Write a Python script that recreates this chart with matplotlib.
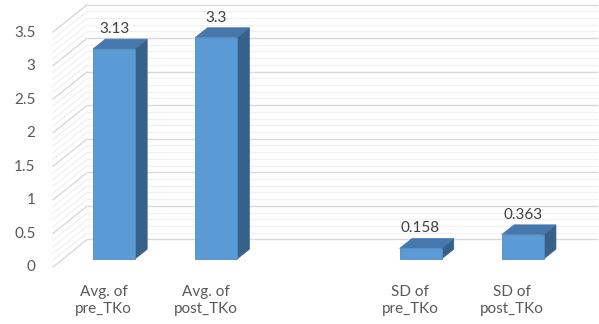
import numpy as np
import matplotlib
matplotlib.use("Agg")
import matplotlib.pyplot as plt
from matplotlib.patches import Polygon

# Data: a blank column separates the averages from the standard deviations
categories = ["Avg. of\npre_TKo", "Avg. of\npost_TKo", "", "SD of\npre_TKo", "SD of\npost_TKo"]
values = [3.13, 3.3, np.nan, 0.158, 0.363]
y_ticks = [0, 0.5, 1, 1.5, 2, 2.5, 3, 3.5]
y_max = 3.5

W, H, DPI = 599, 324, 100
fig = plt.figure(figsize=(W / DPI, H / DPI), dpi=DPI)
ax_rect = [0.105, 0.2006, 0.853, 0.725]
ax = fig.add_axes(ax_rect)
n = len(categories)
ax.set_xlim(-0.5, n - 0.5)
ax.set_ylim(0, y_max)
ax.axis("off")

plt.rcParams["font.family"] = ["Lato", "DejaVu Sans"]
TXT = "#595959"
FS = 11

# pixels per data unit, used for the oblique depth projection
px_x = ax_rect[2] * W / n
px_y = ax_rect[3] * H / y_max
DEPTH_PX = (35.0, 28.0)   # screen shift for one unit of depth


def proj(x, y, d):
    return (x + d * DEPTH_PX[0] / px_x, y + d * DEPTH_PX[1] / px_y)


D_FRONT, D_BACK = -0.3, 0.7
BAR_DEPTH = 0.35
BAR_W = 0.41

# back wall and side wall gridlines (minor every 0.1, major every 0.5)
minor = np.round(np.arange(0, y_max + 1e-9, 0.1), 2)
for v in minor:
    is_major = abs(v / 0.5 - round(v / 0.5)) < 1e-6
    col = "#D9D9D9" if is_major else "#F0F0F0"
    lw = 1.0 if is_major else 0.9
    p0 = proj(-0.5, v, D_BACK)
    p1 = proj(n - 0.5, v, D_BACK)
    ax.plot([p0[0], p1[0]], [p0[1], p1[1]], color=col, lw=lw,
            clip_on=False, zorder=1, solid_capstyle="butt")
    q0 = proj(-0.5, v, D_FRONT)
    ax.plot([q0[0], p0[0]], [q0[1], p0[1]], color=col, lw=lw,
            clip_on=False, zorder=1, solid_capstyle="butt")

# y tick labels at the front edge of the side wall
for t in y_ticks:
    x0, y0 = proj(-0.5, t, D_FRONT)
    ax.annotate(f"{t:g}", (x0, y0), xytext=(-17 * 72 / DPI, 0),
                textcoords="offset points", ha="right", va="center",
                fontsize=FS, color=TXT, annotation_clip=False)

FRONT_C = "#5B9BD5"
TOP_C = "#4677AD"
SIDE_C = "#386189"

for i, (lab, v) in enumerate(zip(categories, values)):
    # category label under the front edge of the floor
    lx, ly = proj(i, 0, D_FRONT)
    ax.annotate(lab, (lx, ly), xytext=(0, -33 * 72 / DPI),
                textcoords="offset points", ha="center", va="center",
                fontsize=FS, color=TXT, linespacing=1.3,
                annotation_clip=False)
    if np.isnan(v):
        continue
    xl, xr = i - BAR_W / 2, i + BAR_W / 2
    side = [proj(xr, 0, 0), proj(xr, v, 0), proj(xr, v, BAR_DEPTH), proj(xr, 0, BAR_DEPTH)]
    top = [proj(xl, v, 0), proj(xr, v, 0), proj(xr, v, BAR_DEPTH), proj(xl, v, BAR_DEPTH)]
    front = [proj(xl, 0, 0), proj(xr, 0, 0), proj(xr, v, 0), proj(xl, v, 0)]
    ax.add_patch(Polygon(side, closed=True, facecolor=SIDE_C, edgecolor=SIDE_C,
                         lw=0.5, clip_on=False, zorder=3))
    ax.add_patch(Polygon(top, closed=True, facecolor=TOP_C, edgecolor=TOP_C,
                         lw=0.5, clip_on=False, zorder=3))
    ax.add_patch(Polygon(front, closed=True, facecolor=FRONT_C, edgecolor="#4F8CC6",
                         lw=0.6, clip_on=False, zorder=4))
    ax.annotate(f"{v:g}", (i, v), xytext=(0, 20 * 72 / DPI),
                textcoords="offset points", ha="center", va="center",
                fontsize=FS, color="#404040", annotation_clip=False, zorder=5)

fig.savefig("out.png", dpi=DPI, facecolor="white")
